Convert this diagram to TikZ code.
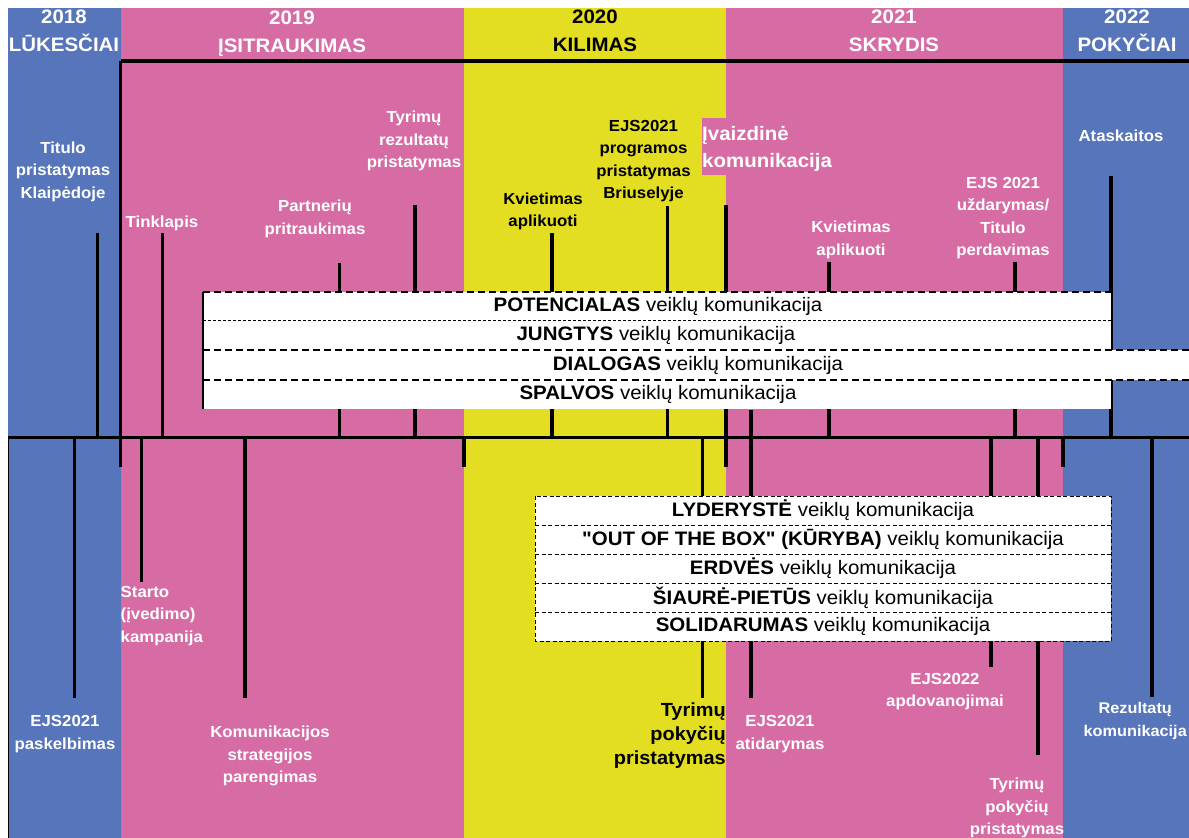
\documentclass[tikz,border=0pt]{standalone}
\usepackage{fontspec}
\setmainfont{Liberation Sans}[FakeStretch=1.05, Ligatures=TeXOff]
\definecolor{cblue}{HTML}{5675BA}
\definecolor{cpink}{HTML}{D76CA5}
\definecolor{cyel}{HTML}{E4DE22}
\begin{document}
\begin{tikzpicture}[x=1pt,y=-1pt,
  hdr/.style={font=\fontsize{19.5}{28}\selectfont\bfseries, align=center, inner sep=0pt},
  lab/.style={font=\fontsize{16}{22.5}\selectfont\bfseries, align=center, inner sep=0pt, text=white},
  labk/.style={lab, text=black},
  tick/.style={line width=3.2pt, draw=black},
  rowtxt/.style={font=\fontsize{19.5}{22}\selectfont, inner sep=0pt},
  bigdash/.style={line width=1.8pt, dash pattern=on 7pt off 4pt},
  finedash/.style={line width=0.8pt, dash pattern=on 3pt off 2pt},
  lowdash/.style={line width=1pt, dash pattern=on 4pt off 2.5pt}
]
\useasboundingbox (0,0) rectangle (1189,838);
\fill[white] (0,0) rectangle (1189,838);
% columns
\fill[cblue] (8,8) rectangle (120.5,838);
\fill[cpink] (120.5,8) rectangle (464,838);
\fill[cyel] (464,8) rectangle (726,838);
\fill[cpink] (726,8) rectangle (1063,838);
\fill[cblue] (1063,8) rectangle (1189,838);
\fill[cpink] (702,118) rectangle (726,175);
\draw[line width=1pt, black] (8.5,437) -- (8.5,838);
% headers
\node[hdr,text=white] (h18) at (64,31) {2018\\LŪKESČIAI};
\node[hdr,text=white] (h19) at (292,33.5) {2019\\ĮSITRAUKIMAS};
\node[hdr] (h20) at (595,31) {2020\\KILIMAS};
\node[hdr,text=white] (h21) at (894,31) {2021\\SKRYDIS};
\node[hdr,text=white] (h22) at (1127,31) {2022\\POKYČIAI};
% axes
\coordinate (axL) at (8,437.5);
\coordinate (axR) at (1189,437.5);
\coordinate (topL) at (120.5,61);
\coordinate (topR) at (1189,61);
\draw[tick] (axL) -- (axR);
\draw[tick] (topL) -- (topR);
% boundary ticks
\coordinate (b1) at (120.5,467);
\coordinate (b2) at (464,467);
\coordinate (b3) at (726,467);
\coordinate (b4) at (1063,467);
\coordinate (u7) at (726,205);
\draw[tick] (topL) -- (b1);
\draw[tick] (b2 |- axL) -- (b2);
\draw[tick] (u7) -- (b3);
\draw[tick] (b4 |- axL) -- (b4);
% upper ticks
\coordinate (u1) at (97.6,233);
\coordinate (u2) at (162.6,233);
\coordinate (u3) at (339.5,263);
\coordinate (u4) at (415,205);
\coordinate (u5) at (552,233);
\coordinate (u6) at (667.5,206);
\coordinate (u8) at (829,262);
\coordinate (u9) at (1015,262);
\coordinate (u10) at (1111,176);
\foreach \c in {u1,u2,u3,u4,u5,u6,u8,u9,u10}
  \draw[tick] (\c) -- (\c |- axL);
% lower ticks
\coordinate (d1) at (74.6,698);
\coordinate (d2) at (141.6,582);
\coordinate (d3) at (245,698);
\coordinate (d4) at (702.5,698);
\coordinate (d6) at (991,667);
\coordinate (d7) at (1038,755);
\coordinate (d8) at (1152,697);
\foreach \c in {d1,d2,d3,d4,d6,d7,d8}
  \draw[tick] (\c |- axL) -- (\c);
\coordinate (d5top) at (751,410);
\coordinate (d5) at (751,698);
\draw[tick] (d5top) -- (d5);
% upper box
\fill[white] (203,292) rectangle (1111,409);
\fill[white] (1111,350) rectangle (1189,380);
\draw[bigdash] (203,292) -- (1111,292);
\draw[line width=1.8pt] (203,292) -- (203,409);
\draw[finedash] (203,320) -- (1111,320);
\draw[bigdash] (203,350) -- (1189,350);
\draw[bigdash] (203,380) -- (1189,380);
\node[rowtxt] (r1) at (658,306) {\textbf{POTENCIALAS} veiklų komunikacija};
\node[rowtxt] (r2) at (656,335) {\textbf{JUNGTYS} veiklų komunikacija};
\node[rowtxt] (r3) at (698,365) {\textbf{DIALOGAS} veiklų komunikacija};
\node[rowtxt] (r4) at (658,394) {\textbf{SPALVOS} veiklų komunikacija};
% lower box
\fill[white] (535,496) rectangle (1111,641);
\draw[lowdash] (535,496) rectangle (1111,641);
\foreach \yy in {525,554,583,612}
  \draw[lowdash] (535,\yy) -- (1111,\yy);
\node[rowtxt] (s1) at (823,510.5) {\textbf{LYDERYSTĖ} veiklų komunikacija};
\node[rowtxt] (s2) at (823,539.5) {\textbf{"OUT OF THE BOX" (KŪRYBA)} veiklų komunikacija};
\node[rowtxt] (s3) at (823,568.5) {\textbf{ERDVĖS} veiklų komunikacija};
\node[rowtxt] (s4) at (823,597.5) {\textbf{ŠIAURĖ-PIETŪS} veiklų komunikacija};
\node[rowtxt] (s5) at (823,626.5) {\textbf{SOLIDARUMAS} veiklų komunikacija};
% upper labels
\node[lab] (l1) at (63,171.5) {Titulo\\pristatymas\\Klaipėdoje};
\node[lab] (l2) at (162,223) {Tinklapis};
\node[lab] (l3) at (315,219) {Partnerių\\pritraukimas};
\node[lab] (l4) at (414,141) {Tyrimų\\rezultatų\\pristatymas};
\node[labk] (l5) at (543,211.5) {Kvietimas\\aplikuoti};
\node[labk] (l6) at (643.5,161) {EJS2021\\programos\\pristatymas\\Briuselyje};
\node[lab, anchor=west, align=left, font=\fontsize{19.5}{27}\selectfont\bfseries] (l7) at (702,148.5) {Įvaizdinė\\komunikacija};
\node[lab] (l8) at (851,240) {Kvietimas\\aplikuoti};
\node[lab] (l9) at (1003,218) {EJS 2021\\uždarymas/\\Titulo\\perdavimas};
\node[lab] (l10) at (1121,136) {Ataskaitos};
% lower labels
\node[lab] (m1) at (65,734) {EJS2021\\paskelbimas};
\node[lab, anchor=west, align=left] (m2) at (120.5,616) {Starto\\(įvedimo)\\kampanija};
\node[lab] (m3) at (270,756) {Komunikacijos\\strategijos\\parengimas};
\node[labk, anchor=east, align=right, font=\fontsize{19}{24}\selectfont\bfseries] (m4) at (726,736) {Tyrimų\\pokyčių\\pristatymas};
\node[lab] (m5) at (780,734) {EJS2021\\atidarymas};
\node[lab] (m6) at (945,691.5) {EJS2022\\apdovanojimai};
\node[lab] (m7) at (1017,808) {Tyrimų\\pokyčių\\pristatymas};
\node[lab, anchor=east, font=\fontsize{15.5}{22.5}\selectfont\bfseries] (m8) at (1187,721) {Rezultatų\\komunikacija};
\end{tikzpicture}
\end{document}
